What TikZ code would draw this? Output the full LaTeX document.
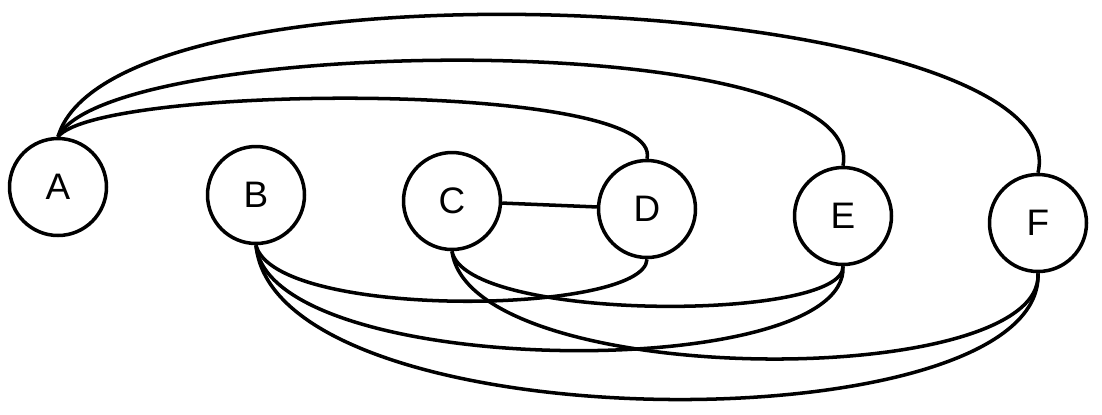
\documentclass[tikz,border=0pt]{standalone}
\usepackage{fontspec}
\setmainfont{Liberation Sans}
\begin{document}
\begin{tikzpicture}[x=0.02cm,y=-0.02cm,
  vert/.style={circle,draw,line width=2pt,minimum size=1.94cm,inner sep=0pt,font=\fontsize{21}{24}\selectfont},
  edge/.style={line width=2pt}]
\useasboundingbox (0,0) rectangle (1102,414);
\node[vert] (A) at (58,187) {A};
\node[vert] (B) at (256,195) {B};
\node[vert] (C) at (452,201) {C};
\node[vert] (D) at (647,209) {D};
\node[vert] (E) at (843,216) {E};
\node[vert] (F) at (1038,223) {F};
% top arcs from A
\draw[edge] (A.north) .. controls (100,84) and (665,80) .. (D.north);
\draw[edge] (A.north) .. controls (110,35) and (870,25) .. (E.north);
\draw[edge] (A.north) .. controls (115,-55) and (1080,-5) .. (F.north);
% straight
\draw[edge] (C) -- (D);
% bottom arcs
\draw[edge] (B.south) .. controls (275,320) and (645,315) .. (D.south);
\draw[edge] (B.south) .. controls (270,380) and (850,384) .. (E.south);
\draw[edge] (B.south) .. controls (275,445) and (1045,447) .. (F.south);
\draw[edge] (C.south) .. controls (465,322) and (845,322) .. (E.south);
\draw[edge] (C.south) .. controls (470,390) and (1045,392) .. (F.south);
\end{tikzpicture}
\end{document}
